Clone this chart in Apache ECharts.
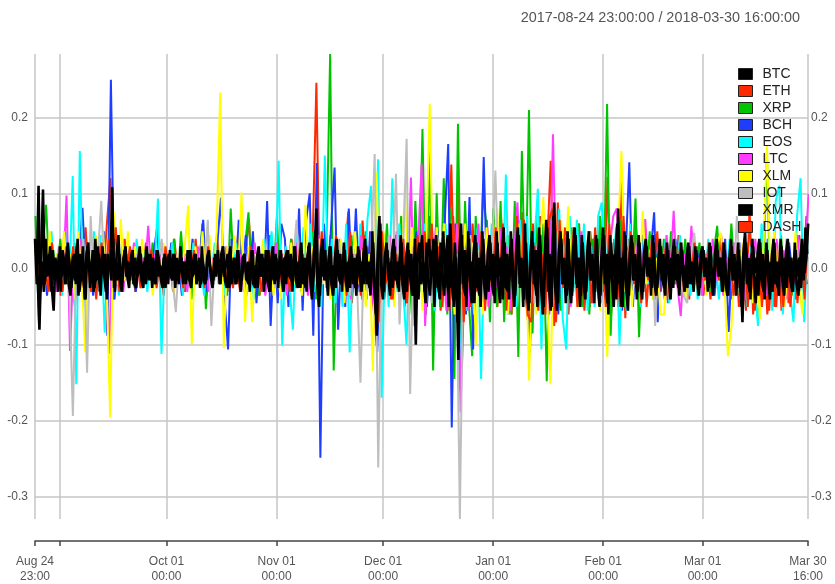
<!DOCTYPE html>
<html>
<head>
<meta charset="utf-8">
<title>Hourly returns</title>
<script src="https://cdn.jsdelivr.net/npm/echarts@6/dist/echarts.min.js"></script>
<style>
  html, body { margin: 0; padding: 0; background: #ffffff; }
  #chart { width: 835px; height: 584px; }
</style>
</head>
<body>
<div id="chart"></div>
<script>
// Period covered and axis ticks (hours counted from 2017-08-24 23:00)
const periodLabel = '2017-08-24 23:00:00 / 2018-03-30 16:00:00';
const totalHours = 5225;
const tickHours = [0, 169, 889, 1633, 2353, 3097, 3841, 4513, 5225];
const tickLabels = ['Aug 24\n23:00', '', 'Oct 01\n00:00', 'Nov 01\n00:00', 'Dec 01\n00:00',
                    'Jan 01\n00:00', 'Feb 01\n00:00', 'Mar 01\n00:00', 'Mar 30\n16:00'];
const yTicks = [-0.3, -0.2, -0.1, 0, 0.1, 0.2];
const yMin = -0.33, yMax = 0.284;

// BTC and XMR: two samples per day, in percent
const btc = [
  2.5, -1, -8, 1.5, 10.5, -2, 1, -0.5, 3, -2.5, -5.5, 1.5, -1, 2, -3, 2.5, 1, -2, 3.5, 0.5,
  -2.5, 1, -1.5, 3, -3.5, 2, 0.5, -2, -4, 3, 1, -1.5, 2.5, -2.5, -1, 3, -3, 1.5, -0.5, 2,
  -4, 1.5, 0.5, 10.8, -2.5, 1, -1.5, 2, -2, 0.5, 2.5, -1, 1, -1.5, 2, -2, 1.5, -1, -0.5, 2,
  -1.5, 1, -2, 2, 0.5, -1.5, 1.5, -2, 2.5, -1, 0.5, -1.5, 1.5, -2.5, 1, 2, -1, -1.5, 2, -0.5,
  -1.5, 1, 1.5, -2, 0.5, 1, -1.5, 2.5, -1, -0.5, 2, -1.5, 1.5, -2, 1, -0.5, -1.5, 2, 0.5, -1,
  -1.5, 2, -0.5, 1, -2, 2.5, -1, 0.5, 2, -2.5, 1, -0.5, 1.5, -2, 2.5, -1, -1.5, 1, 0.5, -1.5,
  -2, 1, 2.5, -1.5, 0.5, -2.5, 2, -1, 1.5, -2, -0.5, 2.5, -3, 1, -1.5, 2, -1.5, 0.5, 2.5, -1,
  1.5, -2, 2.5, -1, -1.5, 0.5, 3, -2, 1, -2.5, 2, -1.5, -2.5, 1.5, 3.5, -1, -3, 1.5, 8, -2.5,
  -3.5, 1.5, -1, 2.5, -2.5, 1.5, 3, -2, 0.5, -2.5, 2.5, -1.5, -2, 0.5, 2.5, -1.5, 1, -2.5, 2, -1,
  -2.5, 1.5, 2.5, -0.5, 1, -2, 3, -1.5, -2.5, 1.5, 3.5, -2.5, -8.8, 1.5, 6, -1.5, -3, 1, 2.5, -1.5,
  1, -2.5, 3, -1, -2.5, 1.5, 3.5, -2, 0.5, -3, 2.5, -1.5, -3.5, 1, -10, 1.5, 3.5, -2, 1, -3,
  3.5, -1.5, -3.5, 1, 4, -2.5, 1.5, -3, 3.5, -1, -3.5, 2, 4.5, -2.5, 1, -4, 3.5, -1.5, -12, 2.5,
  4.5, -2.5, -3.5, 1.5, 4, -2, 1, -4.5, 3.5, -2.5, -3.5, 1.5, 4, -1.5, 0.5, -3, 3.5, -2, -3.5, 1.5,
  3.5, -1, 1.5, -4, 3.5, -2.5, -3, 0.5, 4, -1.5, -3.5, 2, 4.5, -2.5, 1, -4, 3.5, -1.5, -4.5, 2,
  3.5, -1.5, -3.5, 2, 4.5, -2.5, -5, 1.5, 5.5, -2.5, -5.5, 1.5, 8.8, -2.5, -4.5, 1.5, 4, -2, 1, -3.5,
  4, -1.5, -3.5, 1, 4.5, -2.5, 1.5, -3.5, 3.5, -1, -3, 1.5, 3.5, -1.5, 0.5, -3, 4, -2, -3.5, 1.5,
  4.5, -2, -4.5, 1.5, 3.5, -1, 2, -4, 8, -2.5, -5, 1.5, 4.5, -1.5, -3.5, 1, 3.5, -1.5, 0.5, -3,
  3.5, -1.5, -3, 1, 3, -0.5, 1.5, -2.5, 3.5, -2, -2.5, 0.5, 3, -1.5, -2.5, 1, 2.5, -1, 1.5, -2.5,
  3, -1, -2.5, 1.5, 2.5, -1.5, 0.5, -2.5, 3, -1.5, -2, 1, 2.5, -0.5, -2.5, 1.5, 2.5, -1, 0.5, -2.5,
  3, -1.5, -2.5, 1, 2.5, -0.5, 1.5, -3, 2.5, -2, -3.5, 1, 3, -1.5, 0.5, -2.5, 2.5, -1, -7, 1.5,
  3.5, -1.5, -3, 1, 3, -0.5, 1.5, -3.5, 3.5, -2, -3, 0.5, 2.5, -1.5, 1, -3, 3.5, -1.5, -2.5, 1,
  3, -1, 1.5, -2.5, 3, -1.5, -3, 0.5, 2.5, -1, 1.5, -2.5, 3, -0.5, 1.5, 6
];
const xmr = [
  4, -2, 11, -3, 1, -3, 4, -1, 2, -3, 2.5, -1.5, 1, -3, 3, -1, 1.5, -2, 3, -2,
  -3.5, 1, 2, -2, 4, -3, -1, 3, -4, 2, 3.5, -2.5, 1, -3, 4, -1.5, 2, -3.5, 3, -1,
  -3, 2, 1, -1.5, 4, -3, 2, 4.5, -2, -3, 1.5, 3, -1, -2.5, 1.5, 2.5, -2, -2.5, 1, 3,
  -1.5, -2.5, 1, 3, -1.5, 2, -2.5, 1, -2, 2.5, 1, -1.5, -2.5, 2, 1, -2, 2.5, -1, 2, -2.5,
  1.5, -2, 3, -1, 1, -2, 2.5, -1.5, -2.5, 1, 2, -2, 1, -2.5, 3, -1.5, -2, 1.5, 2.5, -1,
  -2.5, 1.5, -1, 2.5, -2, 2, 3, -1.5, -2.5, 1, 3, -2, 1.5, -2, 2.5, -1, -3, 1.5, 2, -1.5,
  1, -3, 2.5, -2, -2.5, 1.5, 3, -1, 2, -3, 2.5, -1.5, -3, 1, 3, -2, 1.5, -2.5, 2.5, -1,
  -3, 1.5, 2.5, -1, 2, -3, 3, -1.5, -2.5, 1, 3.5, -2, 1.5, -3, 3, -1, -4, 2, 5, -2,
  -5, 2, 4, -1.5, 1, -3.5, 3, -2, -3.5, 1.5, 4, -1, 2, -3, 3.5, -1.5, -3, 1, 3, -2,
  1.5, -3.5, 3, -1, -3, 2, 4, -2, 1, -3.5, 5, -2.5, -6, 2, 7, -2, -4, 1.5, 3.5, -1,
  -3.5, 2, 4, -1.5, 1, -3, 4.5, -2, -4, 1.5, 3.5, -1, 2, -3.5, 4, -2, -4, 1.5, 4.5, -1.5,
  -4.5, 2, 4, -1, 2.5, -5, 4.5, -2, -4, 1.5, 5, -2.5, 2, -5, 6, -2, -5, 1.5, -7, 2,
  6, -2, 2.5, -5, 5, -1.5, -4.5, 2, 4.5, -2.5, 1.5, -5, 5, -2, -4, 2, 4.5, -1.5, 2, -4.5,
  5, -2, -4.5, 1.5, 5.5, -2.5, 2, -4, 5, -1.5, -5, 2, 5.5, -2, 1.5, -5, 6, -3, -5.5, 2,
  5, -2, 2.5, -5, 5.5, -2, -6, 1.5, 6.5, -3, 2, -5, 7, -2.5, -5.5, 2, 5, -2, 1.5, -4.5,
  5, -2.5, -4.5, 2, 5.5, -2, 1.5, -5, 4.5, -2, -4, 2, 5, -1.5, 2, -4.5, 4.5, -2, -5, 1.5,
  5.5, -2, 2, -6, 4.5, -1.5, -5, 2.5, 6, -2, 1.5, -5, 5, -2.5, -5.5, 2, 4.5, -1.5, 2, -4,
  4.5, -1.5, -4, 2, 4, -1, 1.5, -3.5, 4.5, -2, -3.5, 1, 4, -1.5, 2, -3.5, 3.5, -1, -4, 1.5,
  4, -1.5, 2, -3.5, 3.5, -1, -3, 1.5, 3.5, -2, 1, -3, 3, -1.5, -3.5, 2, 3, -1, 1.5, -3,
  3.5, -1.5, -3.5, 2, 4, -1, 1.5, -3, 3.5, -2, -3.5, 1, 4, -1.5, 2, -3.5, 3.5, -1, -5, 2,
  5, -2, 1.5, -4, 4, -1, -4.5, 2, 4, -1.5, 2, -4, 3.5, -1, -4, 1.5, 4, -2, 1, -3.5,
  4, -1.5, -3.5, 2, 4, -1, 1.5, -3, 3.5, -2, -3.5, 1, 4, -1.5, 5.5, 2
];

// The other coins: one sample per day, in percent
const eth = [
  2, -1.5, 7.7, -2, 4.5, -1, 2, -3.5, 5, -1.5,
  1, -5, 2.5, -1, 5.5, -2, 1.5, -4, 3, -1,
  6, 12, -4, 1.5, -2, 4, -1, 2, -3, 1,
  -1.5, 3.5, -1, 1.5, -2.5, 1, -3.5, 2, -1, 4,
  -1, 2, -3, 1.5, -1, 4, -2, 1, -3.5, 2,
  -1.5, 4.5, -1, 2, -3, 1.5, -2, 5, -1, 2,
  6.6, -2, 1.5, -3.5, 2, -1, 4.5, -1.5, 2, -3,
  1.5, -2, 4, -1, 2.5, -3.5, 1, -2, 5, 24.6,
  -4, 2, -1.5, 4.5, -2, 1.5, -3, 2, 7.6, -4.5,
  2, -2.5, 6.4, -1.5, 3, -4.5, -10, 5, -2, 1.5,
  -4, 2.5, -1.5, 5.5, -2, 3, -5, 1.5, -2.5, 6,
  -3, 7, -2, 3.5, -5.5, 2, -4, 13.8, -6, 11.5,
  -13, 4, -2.5, 6, -3, 2, -5.5, 6.5, -2, 4,
  -5, 7, -2, 3, -6, 6.5, -2.5, 7.5, -4, -8.8,
  6, -3, 7, -6, 3, 14.3, -7.5, 8.8, -3, 5.5,
  -6, 3, -2.5, 6, -4, 2.5, -5, 4, -2, 6.5,
  -3, 12.2, -6, 3, -5, 12.1, -6.5, 4, -2.5, 6,
  -2, 4.5, -5, 2, -1.5, 5, -3, 1.5, -4.5, 2.5,
  -2, 4.5, -1.5, 2, -4, 3.5, -1.5, 2, -3.5, 1.5,
  -4, 2, -1.5, 4.5, -2.5, 1.5, -4, 3, -5, 2,
  -5.5, 8, -6, 2.5, -5, 3, -6, 2, -5, 3,
  -5.5, 2, -4.5, 1.5, -4, 4.5, -2, 7
];
const xrp = [
  7, -7.3, 2, 8.5, -1.5, 2.5, -1, 4, -2, 1,
  -1.5, 3.5, -1, 2, -3, 1.5, -1, 2.5, -2, 1,
  -2, 3, -1, 1.5, -3, 2, -1, 1.5, -2.5, 1,
  -1, 2.5, -1.5, 3.5, -1, 2, -2.5, 1.5, -1, 4,
  -2, 5, -1.5, 2, -4, 2.5, -1, 6, -5.3, 2,
  -1.5, 4, -2, 1.5, -3.5, 8, -2, 1.5, -1, 3,
  7.5, -1.5, 2, -3.5, 1.5, -1, 4.5, -2, 7, -3.5,
  2, -1.5, 4, -2, 1.5, -3, 2, -1, 5, -4,
  2.5, -1.5, 3.5, 28.4, -13.4, 4, -2, 1.5, -3.5, 4.5,
  -2, 1.5, -4, 5, -1.5, 2, -4.5, 3, -2, 6,
  -3, 4, -2, 7, -5, 2.5, -6, 9, -3, 18.5,
  -6, 16.3, -13.4, 10, -5, 12, -6, 8, -14.5, 19.2,
  -8, 9, -4, -11.5, 7, -3, 10, 6, -7, 8,
  -5, 9, -7, 4.5, -6, 9, -11.6, 15.6, -4, 21,
  -8.5, 7, -3, 6, -14.8, 7, -4, 5, -5.5, 3,
  -3, 5.5, -2, 6, -5, 3, -6, 4, -2.5, 7,
  -3, 21.8, -8.8, 4, -2, 6.5, -5, 3, -2, 9.3,
  -9, 3, -2, 5, -4, 2, -1.5, 4, -2, 5,
  -2, 2.5, -1.5, 4, -3, 1.5, -2, 3.5, -1, 2,
  -3, 2, 5.7, -1.5, 3, -2, 6, -1.5, 2, -4,
  3, -1.5, 4, -2.5, 2, -1, 15.5, -4, 2, -3,
  4.5, -2, 2, -3.5, 1.5, -2, 4, -1
];
const bch = [
  2, -1.5, 4, -3.5, 1, -2, 1.5, -3, 3.5, -1,
  2, -3.5, 1.5, 8.1, -2, 1.5, -3.5, 2, -1, 5,
  -8.8, 25, -4, 2, -1.5, 3, -1, 2, -3, 1,
  -2, 3, -1, 2, 5.4, -1.5, 2.5, -1, 3.5, -2,
  1.5, -3.5, 2, -1, 4, -2, 1.5, 6.5, -3, 1,
  -2, 3.5, 9.4, -4, -10.6, 4, -2, 6.5, -1.5, 4.5,
  -2, 5, -4.5, 2, -3, 9, -7.5, 3, -4.5, 6,
  4, -5, 3, -2.5, 8, -5.5, 6.5, 10, -8.8, 14,
  -24.9, 6, -3, 5.5, 13.4, -8, 3, -5, 8, -2.5,
  8, -3, 2, -4, 5, -2, -11, 3.5, -4, 2,
  -2, 4.5, -1.5, 3, -4.5, 2, -1.5, 5, -2, 2.5,
  -5, 2, -3.5, 5, -2, 6, 16.5, -20.9, 6, -4,
  3, -6, 9.5, -10.6, 2.5, -5, 14.8, -3, 4, -2,
  5, -2.5, 3, -6, 2.5, -3, 6, -2, 3.5, -11,
  3, -5, 2, -3, 6, -2.5, 5, -6, 2, -3,
  5, -1.5, 2, -5, 2.5, -3, 5, -2, 1.5, -4.5,
  3, -5, 1.5, -2, 5, -5.5, 2, 14.1, -5, 2,
  -2.5, 4, -1.5, 2, 7.5, -7, 1.5, -4, 2.5, -1.5,
  4, -1.5, 2, -3, 1.5, -2.5, 3, -1, 2.5, -1.5,
  2, -3.5, 1.5, -1, 4, -8.3, 2.5, -1, 3.5, -2,
  1.5, -3.5, 2.5, -1, 2, -2.5, 4, -1.5, 2, -3.5,
  1.5, -2, 3.5, -1, 2, -3.5, 1.5, -2
];
const eos = [
  2, -1.5, 4, -2, 5, -1, 2.5, -3.5, 5, -2,
  12.3, -15.2, 15.6, -5, 3, -2, 5, -1.5, 4.5, -8.4,
  3, -1.5, 2, -3.5, 4, -1, 2.5, -2, 4, -1,
  2, -3, 1.5, -1, 9.3, -11.2, 2, -1.5, 3.5, -1,
  1.5, -3.5, 2, -1, 3.5, -2, 1, -3.5, 2, -1,
  3.5, -1.5, 2, -3.5, 1, -2, 3.5, -1, 2, -3.5,
  1.5, -4, 2, -1.5, 4, -2, 5, -1.5, 14.3, -10.1,
  3, -2, -8, 4.5, -2, 5.5, -1.5, 6, -3, 2,
  -5, 15, -2, 4, -4.5, 2, -5, 6, -11, 3,
  -2.5, 6, -3, 6.5, 11, -3, 14.5, -17, 3, -5,
  12, -3, 6, -2, -10, 4, -5, 2.5, -3, 6,
  -2, 4, -5.5, 2.5, -3, 6, -3, 6.5, -2, -16,
  4, -5.5, 2, -6, 5.5, -14.5, 3, -5, 6, -2,
  5.5, -3, 12.5, -5.5, 3, -5, 6.5, -2.5, 7, -6,
  3, 10.6, -10.6, 4, -5.5, 7, -3, 8, -6.5, -10.6,
  7, -3, 6.5, -2, 6, -5.5, 3, -5, 7, 8.8,
  -3, 6, -2, 5.5, -10, 3, -5.5, 6, -2, 3,
  -5, 6.6, -2, 3, -4, 2, -1.5, 4, -4.5, 2,
  -1.5, 4.5, -2, 1.5, -3.5, 2, -4, 1.5, -2, 4,
  -2, 1.5, -4, 2, -1.5, 4, -2, 1.5, -4, 2,
  -5, 3, -2, -7.5, 6, -2, 4, -5.5, 9, 11,
  -6, 4, -3, -7, 7, 12, -7, 4
];
const ltc = [
  2, -1, 3.5, -2, 1.5, -3, 2, -1.5, 9.7, -10.8,
  2, -1, 4, -1.5, 2, -3, 1.5, -1, 3.5, -1.5,
  -11.2, 5, -2, 1.5, -3, 2, -1, 3.5, -1.5, 2,
  -1, 5.7, -1.5, 2, -1, 3, -2, 1, -3, 2,
  -1.5, 2, -3, 1, -2, 3, -1, 2, -3, 1.5,
  -1, 2, -1.5, 3, -2.5, 1.5, -1, 2, -3, 1,
  -2, 3.5, -1, 2, -3.5, 1, -2, 3.5, -1.5, 2,
  -3.5, 1.5, -1, 3.5, -2, 1, -3.5, 2, -1, 4.5,
  -2, 1.5, -3.5, 2, -1.5, 4, -2, 1, -4, 2,
  -1.5, 4.5, -2, 1.5, -4.5, 2, -5, 2.5, -1.5, 4.5,
  -2, 5, -1.5, 3, -4.5, 12.1, -7.5, 3, 13.9, -7.5,
  3, -2, 5.5, -2.5, 2, -5.5, 3, -2, 6, -18.9,
  3, -5.5, 2, -2.5, 6, -2, 3.5, -5, 2, -2.5,
  5.5, -2, 3, -5.5, 2, 8.8, -2.5, 3, -5, 2,
  -2.5, 5.5, -2, 3, -6, 17.8, -3, 5.5, -2, 3,
  -5, 2, -2, 5, -2.5, 2, -4.5, 3, -1.5, 4.5,
  -2, 3, 7, 8, -2.5, 3, -5, 2, -1.5, 4.5,
  -2, 6.6, -1.5, 2, -4, 1.5, -2, 4.5, -1, 7.7,
  -2, -6.2, 2, -1.5, 5.7, -2, 1.5, -3.5, 2, -1,
  4, -1.5, 2, -3.5, 1.5, -1, 3.5, -2, 1.5, -4,
  2, -1.5, 4, -2, 1.5, -3.5, 2, -1, 4, -2,
  2.5, -4, 1.5, -2, 4.5, -1.5, 2, 9.9
];
const xlm = [
  2, -1.5, 4, -2, 5, -1, 2, -3, 5, -1.5,
  2, -4, 5, -1.5, -11, 3, -2, 4.5, -1, 5,
  -2, -19.6, 7.7, -2, 6.6, -1.5, 5, -2, 3, -1,
  4, -1.5, 2, -3.5, 1.5, -1, 3.5, -2, 1, -3.5,
  2, -1, 3, 8.4, -9.9, 3, -2, 5, -1.5, 4.5,
  -2, 5, 23.3, -10.4, 3, -2, 4.5, -1.5, 10.1, -7,
  3, -7, 2, -2.5, 4, -1.5, 2, -3.5, 1.5, -4,
  2, -1.5, 3.5, -2, 1.5, -3.5, 8.5, -1.5, 3, -2,
  4, -2, 1.5, -4, 2, -1.5, 4, -4.5, 2, -1.5,
  5, -2, 2.5, -5, 2, -13.5, 12.8, -3, 5, -2,
  2, -5, 2.5, -2, 11, -2.5, 5.5, -2, 2.5, -5.5,
  3, 21.8, -3, 5.5, -2.5, 6, -2, 3, -6, 2,
  -3, 6, -2, 3.5, -10, 2.5, -6, 5.5, -2, 3,
  8, -2.5, 3, -6, 2.5, -3, 6, -2, 4, -14.7,
  3, -6, 2.5, 9.5, -3, -15.2, 4, -3, 6.5, -2.5,
  8.3, -2, 3, -5, 2, -3, 5, -2, 2.5, -5.5,
  2.5, -11.6, 3, -2, 4, 15.6, -3, 2.5, -5, 2,
  -2, 7.7, -2, 2.5, -4, 1.5, -6, -6, 2, -1.5,
  4, -2, 1.5, -4, 2, -1.5, 3, -2, 1.5, -3.5,
  2, -1.5, 3.5, 4.8, -2, -11.5, -7.5, 2, -1.5, 3.5,
  -2, 1.5, -4.5, 2, -6.6, 3, 16.3, -2.5, 5, -2,
  2, -5, 1.5, -2.5, 5, -2, -6, 2.5
];
const iot = [
  1.5, -2, 3.5, -1, 2, -1.5, 3, -2, 1.5, -2.5,
  -19.4, 2, -1.5, 4, -13.7, 7, -2, 1.5, 9, -2,
  2, -1.5, 3, -2, 1, -1.5, 2.5, -1, 2, -2.5,
  1.5, -1, 2.5, -2, 1, 4, -1.5, 2, -1, -5.7,
  2, -1, 1.5, -2.5, 1, -2, 2.5, -1, 6.5, -7.5,
  1.5, -2, 2, -1, 3, -1.5, 2, -2.5, 1, -2,
  2.5, -1, 1.5, -3, 2, -1, 2, -2.5, 1.5, -1,
  2, -1.5, 1, 6.5, -2, 1.5, -2.5, 2, -1, 3.5,
  -2, 1.5, -3, 2, -1.5, 3.5, -2, 1, -3.5, 2,
  -1.5, -15, 2.5, -3, 2, 15.2, -26.2, 3, -2, 4.5,
  -2, 12.6, -7.3, 2.5, 17.2, -16.5, 3, -2, 4.5, -2,
  2, -4.5, 2.5, -2, 4.5, -2, 3, -4.5, 2, -33,
  3, -2, 4.5, -2, 2.5, -4.5, 2, -3, 2, 13,
  -2, 4.5, -2, 3, -4.5, 2, -2, 4.5, -1.5, 2,
  -4.5, 2, -2, 4.5, -2.5, 2, -4.5, 3, -2, 4.5,
  -2, 2.5, -4, 2, -1.5, 4, -2, 2, -4, 1.5,
  -2, 4, -1.5, 2, -4, 2.5, -1.5, 4.5, -2, 1.5,
  -4, 2, -1.5, 4, -7.5, 2, -1.5, 2, -3.5, 1.5,
  -1.5, 2, -3.5, -4.5, 1.5, 4.8, -1.5, 2, -1, 3.5,
  -2, 1.5, -1, 3.5, -2, 1, -3.5, 7, -1.5, 2,
  -3.5, 1.5, -2, 3.5, -1, 2, -3.5, 1.5, -2, 3.5,
  -1.5, 2, -3.5, 1.5, -1, 4, -2, 1.5
];
const dash = [
  1.5, -2.5, 1, -3, 3.5, -1, 1.5, -3, 2, -1,
  3, -1.5, 2, -2.5, 1, -3, 2, -1, 3.5, -1.5,
  4, -1.5, 5.5, -3, 1.5, -1, 3, -1.5, 1, -2.5,
  1.5, -1, 2.5, -1.5, 1, -2.5, 3, -1, 1.5, -2,
  1, -2.5, 1.5, -1, 2.5, -1.5, 1, -2.5, 3, -1,
  1.5, -1, 3, -1.5, 1, -2.5, 1.5, -3, 1, -1.5,
  3, -1, 1.5, -3, 1, -2, 3, -1.5, 1, -3,
  1.5, -3, 1, -1.5, 3.5, -1, 2, -3.5, 4, -2,
  5, -1.5, 2, -3.5, 4.5, -1.5, 2, -3.5, 5, -1.5,
  2, -3.5, 4.5, -1.5, 2, -4, -7, 5, -2, 1.5,
  -4, 2, -1.5, 4, -4.5, 2, -1.5, 4.5, -2, 5,
  -2.5, 6, -2, 3, -5, 2.5, -5.5, 7, -2.5, 6,
  -7, 2.5, -5, 3, -2, 5, -5.5, 2, -2.5, 5.5,
  -2, 6, -5.5, 2.5, -5, 7, -2.5, 6.5, -6, -7,
  3, -5.5, 2, -6, 6.5, 8, -7, 6.5, -2.5, 5,
  -2, 5.5, -5, 2, -5.5, 2.5, -4.5, 5.5, -2, 2,
  -5, 6, -2.5, 2, -5, 7, -2.5, 5, -2, 2,
  -4.5, 2, -1.5, 4, -3.5, 1.5, -1.5, 3.5, -4, 1.5,
  -1.5, 3.5, -3, 1, -1.5, 3.5, -3.5, 1, -1.5, 3.5,
  -3.5, 1, -1.5, 3.5, -3, 1.5, -3.5, 1, -4, 4,
  -5, 2, -5.5, 1.5, -5, 2, -5.5, 1.5, -5, 2.5,
  -5, 2, -5, 1.5, -4.5, 2.5, -4, 6
];

const seriesNames = ['BTC', 'ETH', 'XRP', 'BCH', 'EOS', 'LTC', 'XLM', 'IOT', 'XMR', 'DASH'];
const seriesData = [btc, eth, xrp, bch, eos, ltc, xlm, iot, xmr, dash];
// hours between samples and hour of the first sample, per coin
const sampleStep = [12, 24, 24, 24, 24, 24, 24, 24, 12, 24];
const sampleHour = [6, 6, 3, 9, 15, 21, 4, 16, 0, 18];
const seriesColors = ['#000000', '#ff2a00', '#00c400', '#1f3dff', '#00ffff',
                      '#ff3cff', '#ffff00', '#bebebe', '#000000', '#ff2a00'];
const seriesZ = [5, 3, 3, 3, 3, 3, 3, 3, 5, 4];
const seriesWidth = [2.6, 2, 2, 2, 2, 2, 2, 2, 2.6, 2];

function toPoints(pcts, step, first) {
  return pcts.map((p, k) => [k * step + first, p / 100]);
}

const gridColor = '#c6c6c6';
const textColor = '#555555';
const fontFamily = 'Liberation Sans, Arial, sans-serif';

const lineSeries = seriesNames.map((name, i) => ({
  name: name,
  type: 'line',
  data: toPoints(seriesData[i], sampleStep[i], sampleHour[i]),
  showSymbol: false,
  symbol: 'none',
  color: seriesColors[i],
  lineStyle: { width: seriesWidth[i], color: seriesColors[i] },
  z: seriesZ[i],
  silent: true
}));

// grid lines, kept underneath the data
const gridSeries = {
  name: 'grid',
  type: 'line',
  data: [],
  z: 1,
  silent: true,
  markLine: {
    z: 1,
    silent: true,
    symbol: ['none', 'none'],
    label: { show: false },
    lineStyle: { color: gridColor, width: 1.5, type: 'solid' },
    animation: false,
    data: tickHours.map(h => ({ xAxis: h })).concat(yTicks.map(v => ({ yAxis: v })))
  }
};

const chart = echarts.init(document.getElementById('chart'), null, { renderer: 'canvas' });
chart.setOption({
  animation: false,
  backgroundColor: '#ffffff',
  title: {
    text: periodLabel,
    right: 30,
    top: 6,
    textStyle: { fontSize: 14.4, fontWeight: 'normal', color: textColor, fontFamily: fontFamily }
  },
  legend: {
    data: seriesNames,
    orient: 'vertical',
    left: 738,
    top: 67,
    padding: 0,
    itemWidth: 14,
    itemHeight: 11,
    itemGap: 3,
    icon: 'rect',
    z: 10,
    itemStyle: { borderColor: '#222222', borderWidth: 1 },
    textStyle: { fontSize: 14, color: '#222222', lineHeight: 14, padding: [0, 0, 0, 5],
                 fontFamily: fontFamily },
    selectedMode: false
  },
  grid: { left: 35, right: 27, top: 54, bottom: 64, containLabel: false },
  xAxis: {
    type: 'value',
    min: 0,
    max: totalHours,
    offset: 22,
    splitLine: { show: false },
    axisLine: { show: true, onZero: false, lineStyle: { color: '#444444', width: 1.5 } },
    axisTick: { show: true, length: 5, inside: false, customValues: tickHours,
                lineStyle: { color: '#444444', width: 1.5 } },
    axisLabel: {
      customValues: tickHours.filter((h, i) => tickLabels[i] !== ''),
      formatter: v => tickLabels[tickHours.indexOf(v)],
      color: textColor,
      fontSize: 12,
      lineHeight: 15,
      margin: 13,
      hideOverlap: false,
      fontFamily: fontFamily
    }
  },
  yAxis: [
    {
      type: 'value', min: yMin, max: yMax, position: 'left',
      splitLine: { show: false }, axisLine: { show: false }, axisTick: { show: false },
      axisLabel: { customValues: yTicks, formatter: v => v.toFixed(1), color: textColor,
                   fontSize: 12, margin: 7, fontFamily: fontFamily }
    },
    {
      type: 'value', min: yMin, max: yMax, position: 'right',
      splitLine: { show: false }, axisLine: { show: false }, axisTick: { show: false },
      axisLabel: { customValues: yTicks, formatter: v => v.toFixed(1), color: textColor,
                   fontSize: 12, margin: 3, fontFamily: fontFamily }
    }
  ],
  series: [gridSeries].concat(lineSeries)
});
</script>
</body>
</html>
